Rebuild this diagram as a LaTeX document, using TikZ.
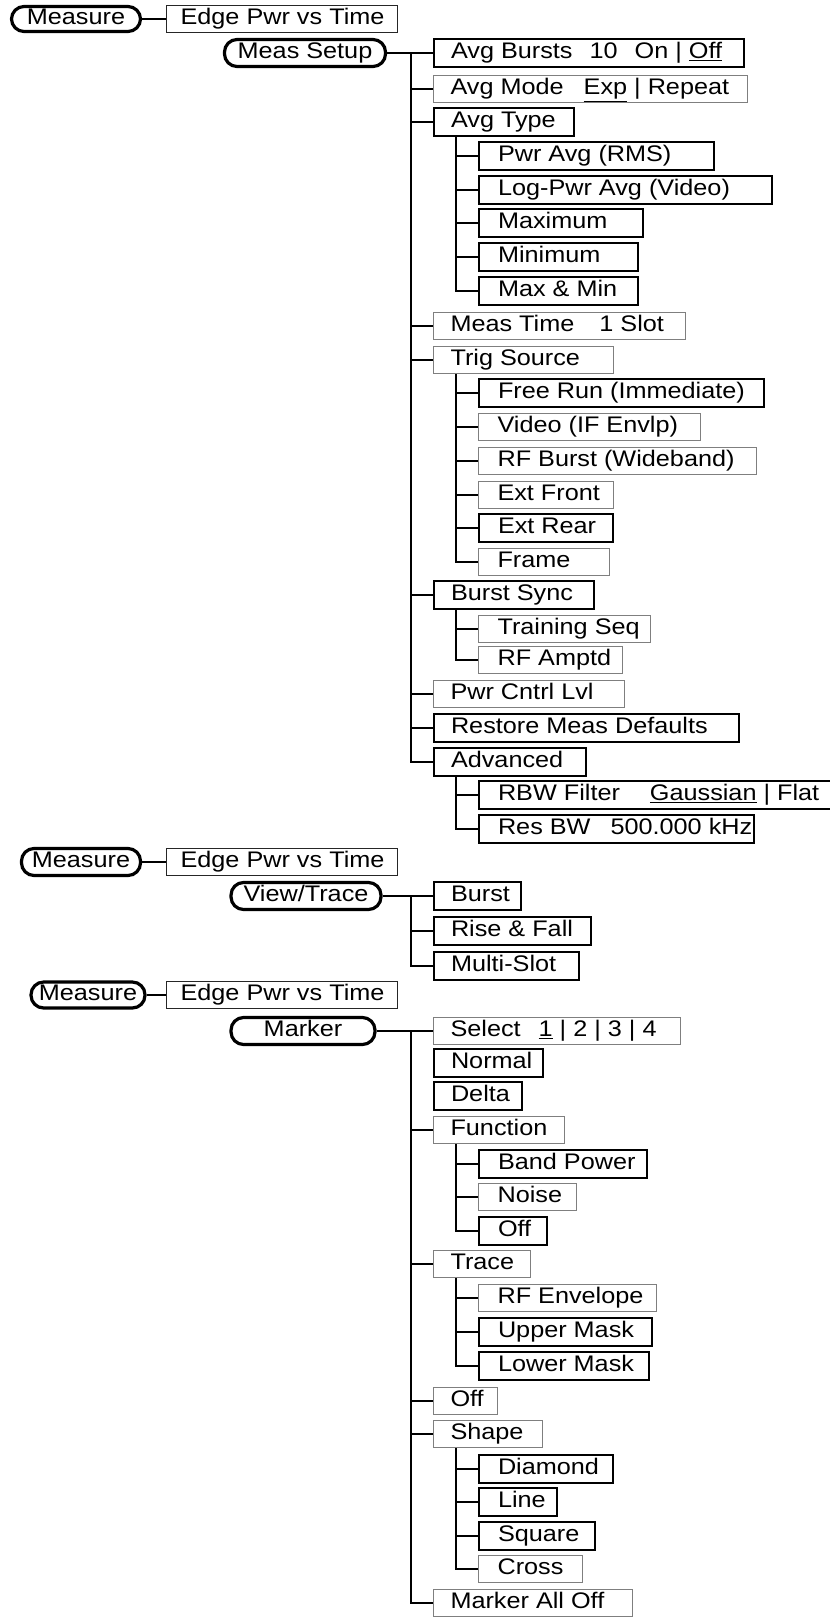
\documentclass[tikz,border=0pt]{standalone}
\usepackage{fontspec}
\setmainfont{Liberation Sans}[FakeStretch=1.12]
\newdimen\px \px=0.75pt
\newcommand\bt[3]{\makebox[#1\px][l]{\hspace*{#2\px}#3}}
\newcommand\gap[1]{\hspace{#1\px}}
\definecolor{gbox}{HTML}{7F7F7F}
\begin{document}
\begin{tikzpicture}[x=0.75pt,y=-0.75pt,
  base/.style={anchor=west, inner sep=0pt, minimum height=20.5pt, text height=12pt, text depth=4pt,
    font=\fontsize{16.9pt}{20pt}\selectfont},
  blk/.style={base, draw=black, line width=1.5pt},
  gry/.style={base, draw=gbox, line width=0.8pt},
  thn/.style={base, draw=black!85, line width=0.9pt},
  pill/.style={draw=black, line width=2.4pt, rounded corners=9.5pt, inner sep=0pt,
    text height=12pt, text depth=4pt, font=\fontsize{16.9pt}{20pt}\selectfont},
  trunk/.style={draw=black, line width=1.5pt},
  conn/.style={draw=black, line width=1.3pt},
  thinconn/.style={draw=black, line width=0.9pt}]
\useasboundingbox[fill=white] (0,0) rectangle (830,1617);

% ---------- Section 1 ----------
\node[pill, minimum width=96.8pt, minimum height=18.8pt] (p1) at (76,19) {Measure};
\node[thn] (e1) at (166,19) {\bt{231}{14}{Edge Pwr vs Time}};
\node[pill, minimum width=120.8pt, minimum height=20.3pt] (p2) at (305,53) {Meas Setup};

\node[blk] (ab) at (433,53) {\bt{310}{17}{Avg Bursts\gap{17}10\gap{17}On | \underline{Off}}};
\node[gry] (am) at (433,89) {\bt{314}{17}{Avg Mode\gap{20}\underline{Exp} | Repeat}};
\node[blk] (at) at (433,122) {\bt{140}{17}{Avg Type}};
\node[blk] (pa) at (478,156) {\bt{235}{19}{Pwr Avg (RMS)}};
\node[blk] (lp) at (478,190) {\bt{293}{19}{Log-Pwr Avg (Video)}};
\node[blk] (mx) at (478,223) {\bt{164}{19}{Maximum}};
\node[blk] (mn) at (478,257) {\bt{159}{19}{Minimum}};
\node[blk] (mm) at (478,291) {\bt{159}{19}{Max \& Min}};
\node[gry] (mt) at (433,326) {\bt{252}{17}{Meas Time\gap{25}1 Slot}};
\node[gry] (ts) at (433,360) {\bt{180}{17}{Trig Source}};
\node[blk] (fr) at (478,393) {\bt{285}{19}{Free Run (Immediate)}};
\node[gry] (vi) at (478,427) {\bt{222}{19}{Video (IF Envlp)}};
\node[gry] (rb) at (478,461) {\bt{278}{19}{RF Burst (Wideband)}};
\node[gry] (ef) at (478,495) {\bt{135}{19}{Ext Front}};
\node[blk] (er) at (478,528) {\bt{134}{19}{Ext Rear}};
\node[gry] (fm) at (478,562) {\bt{131}{19}{Frame}};
\node[blk] (bs) at (433,595) {\bt{160}{17}{Burst Sync}};
\node[gry] (tq) at (478,629) {\bt{172}{19}{Training Seq}};
\node[gry] (ra) at (478,660) {\bt{144}{19}{RF Amptd}};
\node[gry] (pc) at (433,694) {\bt{191}{17}{Pwr Cntrl Lvl}};
\node[blk] (rd) at (433,728) {\bt{305}{17}{Restore Meas Defaults}};
\node[blk] (ad) at (433,762) {\bt{152}{17}{Advanced}};
\node[blk] (rbw) at (478,795) {\bt{390}{19}{RBW Filter\gap{30}\underline{Gaussian} | Flat}};
\node[blk] (rs) at (478,829) {\bt{275}{19}{Res BW\gap{20}500.000 kHz}};

\coordinate (T) at (411,0);
\coordinate (S) at (456,0);

\draw[conn] (p1.east) -- (e1.west);
\draw[conn] (p2.east) -- (ab.west);
\draw[trunk] (p2.east -| T) |- (ad.west);
\foreach \n in {am,at,mt,ts,bs,pc,rd} \draw[conn] (\n.west -| T) -- (\n.west);
\draw[trunk] (at.south -| S) |- (mm.west);
\foreach \n in {pa,lp,mx,mn} \draw[conn] (\n.west -| S) -- (\n.west);
\draw[trunk] (ts.south -| S) |- (fm.west);
\foreach \n in {fr,vi,rb,ef,er} \draw[conn] (\n.west -| S) -- (\n.west);
\draw[trunk] (bs.south -| S) |- (ra.west);
\draw[conn] (tq.west -| S) -- (tq.west);
\draw[trunk] (ad.south -| S) |- (rs.west);
\draw[conn] (rbw.west -| S) -- (rbw.west);

% ---------- Section 2 ----------
\node[pill, minimum width=89.3pt, minimum height=20.3pt] (p3) at (81,862) {Measure};
\node[thn] (e2) at (166,862) {\bt{231}{14}{Edge Pwr vs Time}};
\node[pill, minimum width=112.5pt, minimum height=20.3pt] (p4) at (306,896) {View/Trace};
\node[blk] (bu) at (433,896) {\bt{87}{17}{Burst}};
\node[blk] (rf) at (433,931) {\bt{157}{17}{Rise \& Fall}};
\node[blk] (ms) at (433,966) {\bt{145}{17}{Multi-Slot}};

\draw[conn] (p3.east) -- (e2.west);
\draw[thinconn] (p4.east) -- (bu.west);
\draw[trunk] (p4.east -| T) |- (ms.west);
\draw[conn] (rf.west -| T) -- (rf.west);

% ---------- Section 3 ----------
\node[pill, minimum width=85.5pt, minimum height=19.5pt] (p5) at (88,995) {Measure};
\node[thn] (e3) at (166,995) {\bt{231}{14}{Edge Pwr vs Time}};
\node[pill, minimum width=108pt, minimum height=20.3pt] (p6) at (303,1031) {Marker};

\node[gry] (se) at (433,1031) {\bt{247}{17}{Select\gap{18}\underline{1} | 2 | 3 | 4}};
\node[blk] (no) at (433,1063) {\bt{109}{17}{Normal}};
\node[blk] (de) at (433,1096) {\bt{88}{17}{Delta}};
\node[gry] (fu) at (433,1130) {\bt{131}{17}{Function}};
\node[blk] (bp) at (478,1164) {\bt{168}{19}{Band Power}};
\node[gry] (ns) at (478,1197) {\bt{98}{19}{Noise}};
\node[blk] (of1) at (478,1231) {\bt{68}{19}{Off}};
\node[gry] (tr) at (433,1264) {\bt{97}{17}{Trace}};
\node[gry] (re) at (478,1298) {\bt{178}{19}{RF Envelope}};
\node[blk] (um) at (478,1332) {\bt{173}{19}{Upper Mask}};
\node[blk] (lm) at (478,1366) {\bt{170}{19}{Lower Mask}};
\node[gry] (of2) at (433,1401) {\bt{64}{17}{Off}};
\node[gry] (sh) at (433,1434) {\bt{109}{17}{Shape}};
\node[blk] (di) at (478,1469) {\bt{134}{19}{Diamond}};
\node[blk] (li) at (478,1502) {\bt{78}{19}{Line}};
\node[blk] (sq) at (478,1536) {\bt{116}{19}{Square}};
\node[gry] (cr) at (478,1569) {\bt{104}{19}{Cross}};
\node[gry] (ma) at (433,1603) {\bt{199}{17}{Marker All Off}};

\draw[thinconn] (p5.east) -- (e3.west);
\draw[conn] (p6.east) -- (se.west);
\draw[trunk] (p6.east -| T) |- (ma.west);
\foreach \n in {fu,tr,of2,sh} \draw[conn] (\n.west -| T) -- (\n.west);
\draw[trunk] (fu.south -| S) |- (of1.west);
\foreach \n in {bp,ns} \draw[conn] (\n.west -| S) -- (\n.west);
\draw[trunk] (tr.south -| S) |- (lm.west);
\foreach \n in {re,um} \draw[conn] (\n.west -| S) -- (\n.west);
\draw[trunk] (sh.south -| S) |- (cr.west);
\foreach \n in {di,li,sq} \draw[conn] (\n.west -| S) -- (\n.west);
\end{tikzpicture}
\end{document}
